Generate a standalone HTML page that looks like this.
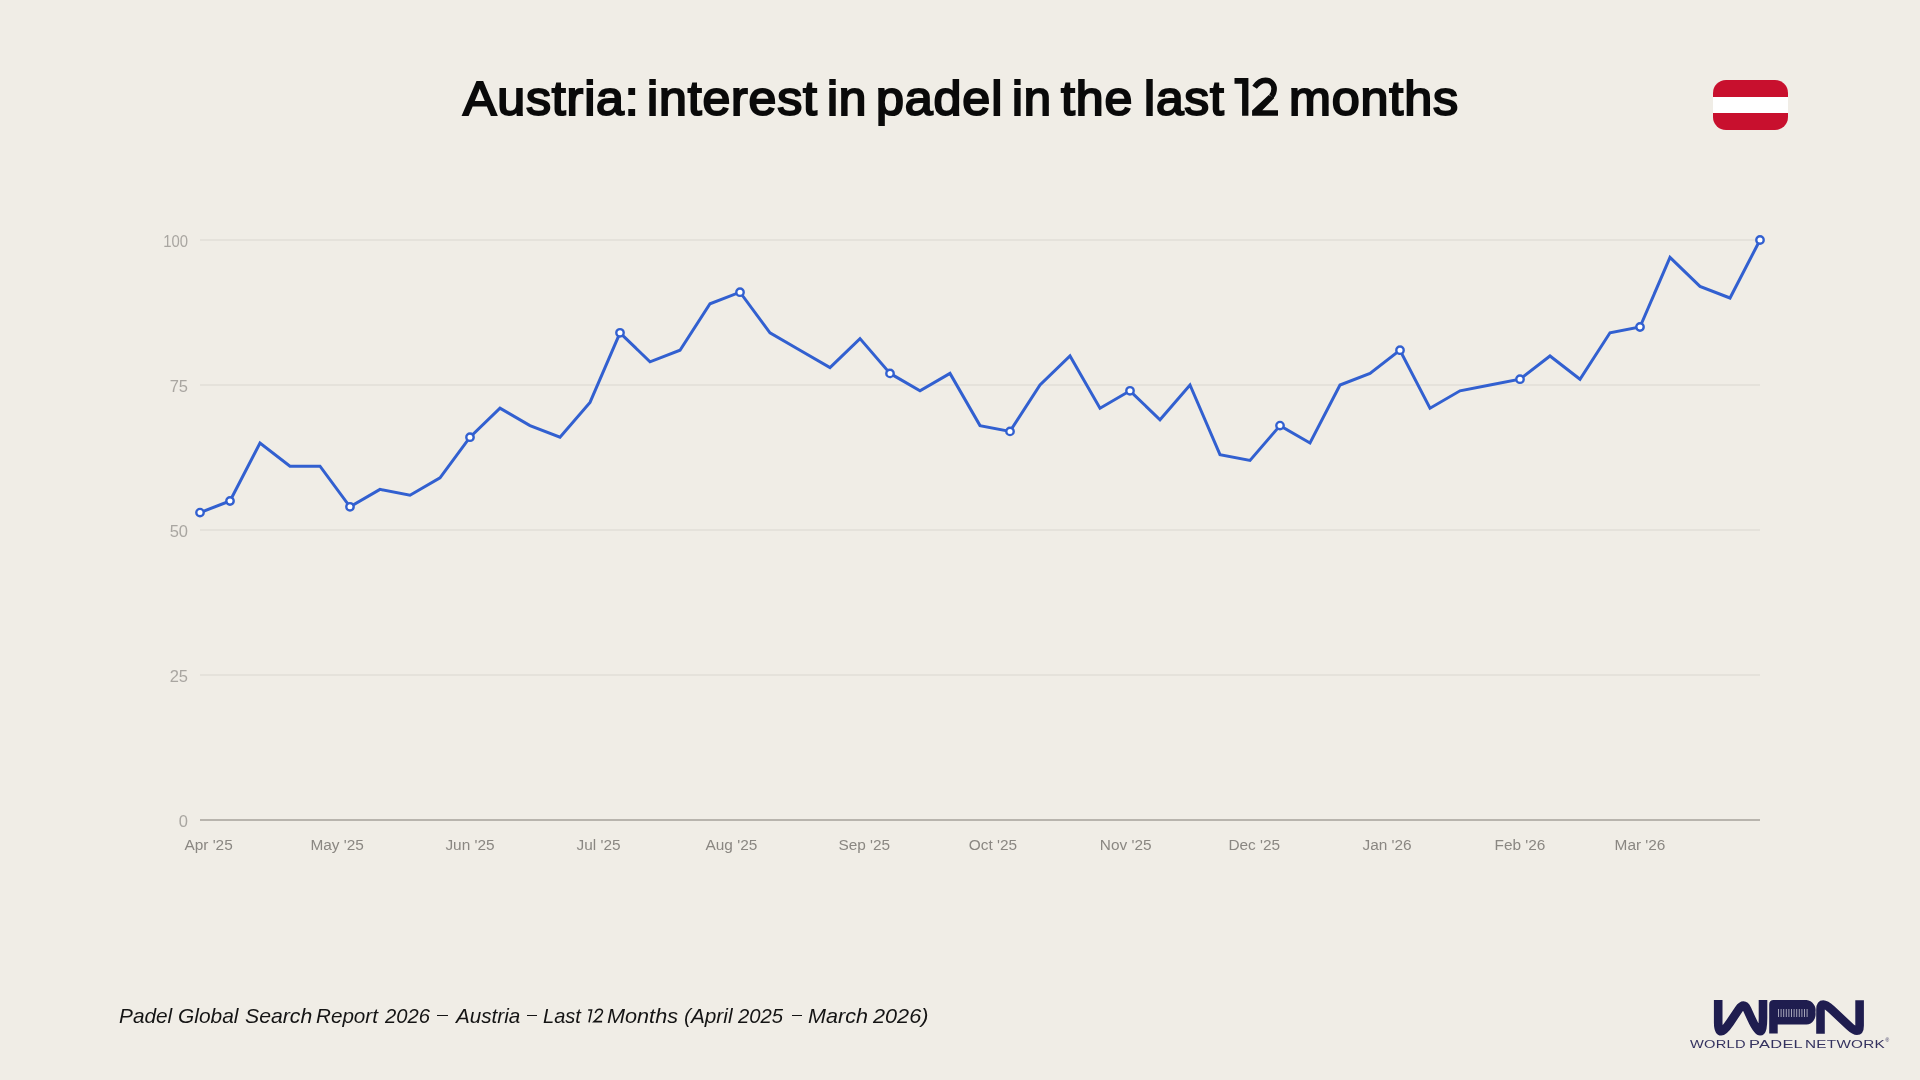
<!DOCTYPE html>
<html><head><meta charset="utf-8">
<style>
html,body{margin:0;padding:0;}
.title,.foot,.wpn,svg{will-change:transform;}
body{width:1920px;height:1080px;background:#f0ede6;position:relative;overflow:hidden;font-family:"Liberation Sans",sans-serif;}
.title span{position:absolute;top:49px;line-height:100px;font-weight:normal;font-size:48px;letter-spacing:0.8px;-webkit-text-stroke:2px #0a0a0a;color:#0a0a0a;white-space:nowrap;transform-origin:0 0;}
.flag{position:absolute;left:1713px;top:80px;width:75px;height:50px;border-radius:13px;overflow:hidden;background:#c8102e;}
.flag div{position:absolute;left:0;top:16.7px;width:75px;height:16.6px;background:#fff;}
svg{position:absolute;left:0;top:0;}
.yl{font-size:16.5px;fill:#a9a6a1;}
.xl{font-size:15.4px;fill:#8a8782;}
.foot span{position:absolute;top:966px;line-height:100px;font-style:italic;font-size:21px;color:#141414;white-space:nowrap;transform-origin:0 0;}
.wpn span{position:absolute;top:994px;line-height:100px;font-size:11.2px;letter-spacing:0.2px;color:#34325f;white-space:nowrap;transform-origin:0 0;}
.wpn .reg{left:1885.5px;top:1037px;font-size:5px;line-height:6px;letter-spacing:0;}
.dash{position:absolute;top:1014.6px;height:1.6px;background:#141414;}
</style></head><body>
<div class="title">
<span style="left:463.2px;transform:scaleX(1.044)">Austria:</span>
<span style="left:646.8px;transform:scaleX(1.043)">interest</span>
<span style="left:827.4px;transform:scaleX(1.035)">in</span>
<span style="left:875.9px;transform:scaleX(1.047)">padel</span>
<span style="left:1012.3px;transform:scaleX(1.021)">in</span>
<span style="left:1061.0px;transform:scaleX(1.044)">the</span>
<span style="left:1143.7px;transform:scaleX(1.036)">last</span>
<span style="left:1288.6px;transform:scaleX(1.048)">months</span>
</div>
<div class="flag"><div></div></div>
<svg width="1920" height="1080" viewBox="0 0 1920 1080">
<g fill="#0a0a0a">
<path d="M1234.5 78 H1248.4 V115.75 H1242.1 V83.8 H1234.5 Z"/>
<path d="M1252.1 115.75 H1278 V110.2 H1262.3 L1274.3 97.9 L1268.7 95.1 L1252.1 110.5 Z"/>
</g>
<path d="M1254.6 87.3 C1257.5 83 1261 80.4 1265.5 80.4 C1270.8 80.4 1274.1 84.3 1274.1 88.8 C1274.1 92.5 1272.8 94.8 1271.3 96.5" fill="none" stroke="#0a0a0a" stroke-width="5.6"/>
<g fill="none" stroke="#141414" stroke-width="1.55" stroke-linejoin="miter"><path d="M588.2 1010 H591.6 L589 1022.4"/><path d="M595.3 1013 C596.1 1010.5 597.6 1009.2 599.5 1009.2 C601.5 1009.2 602.6 1010.5 602.4 1012.2 C602.2 1013.9 601 1015.1 599.6 1016.3 L594 1021.6 H602.1"/></g>
<g stroke="#e2ded7" stroke-width="1.5">
<line x1="200" y1="240" x2="1760" y2="240"/>
<line x1="200" y1="385" x2="1760" y2="385"/>
<line x1="200" y1="530" x2="1760" y2="530"/>
<line x1="200" y1="675" x2="1760" y2="675"/>
</g>
<line x1="200" y1="820" x2="1760" y2="820" stroke="#b8b4ad" stroke-width="2"/>
<g class="yl" text-anchor="end">
<text x="188" y="247" textLength="24.8" lengthAdjust="spacingAndGlyphs">100</text>
<text x="188" y="392">75</text>
<text x="188" y="537">50</text>
<text x="188" y="682">25</text>
<text x="188" y="827">0</text>
</g>
<g class="xl" text-anchor="middle">
<text x="208.6" y="850">Apr '25</text>
<text x="337.1" y="850">May '25</text>
<text x="470" y="850">Jun '25</text>
<text x="598.6" y="850">Jul '25</text>
<text x="731.4" y="850">Aug '25</text>
<text x="864.3" y="850">Sep '25</text>
<text x="992.9" y="850">Oct '25</text>
<text x="1125.7" y="850">Nov '25</text>
<text x="1254.3" y="850">Dec '25</text>
<text x="1387.1" y="850">Jan '26</text>
<text x="1520" y="850">Feb '26</text>
<text x="1640" y="850">Mar '26</text>
</g>
<polyline fill="none" stroke="#3260d0" stroke-width="3" stroke-linejoin="miter" points="200,512.6 230,501.0 260,443.0 290,466.2 320,466.2 350,506.8 380,489.4 410,495.2 440,477.8 470,437.2 500,408.2 530,425.6 560,437.2 590,402.4 620,332.8 650,361.8 680,350.2 710,303.8 740,292.2 770,332.8 800,350.2 830,367.6 860,338.6 890,373.4 920,390.8 950,373.4 980,425.6 1010,431.4 1040,385.0 1070,356.0 1100,408.2 1130,390.8 1160,419.8 1190,385.0 1220,454.6 1250,460.4 1280,425.6 1310,443.0 1340,385.0 1370,373.4 1400,350.2 1430,408.2 1460,390.8 1490,385.0 1520,379.2 1550,356.0 1580,379.2 1610,332.8 1640,327.0 1670,257.4 1700,286.4 1730,298.0 1760,240.0"/>
<g fill="#ffffff" stroke="#3260d0" stroke-width="2.4">
<circle cx="200" cy="512.6" r="3.7"/><circle cx="230" cy="501.0" r="3.7"/><circle cx="350" cy="506.8" r="3.7"/><circle cx="470" cy="437.2" r="3.7"/><circle cx="620" cy="332.8" r="3.7"/><circle cx="740" cy="292.2" r="3.7"/><circle cx="890" cy="373.4" r="3.7"/><circle cx="1010" cy="431.4" r="3.7"/><circle cx="1130" cy="390.8" r="3.7"/><circle cx="1280" cy="425.6" r="3.7"/><circle cx="1400" cy="350.2" r="3.7"/><circle cx="1520" cy="379.2" r="3.7"/><circle cx="1640" cy="327.0" r="3.7"/><circle cx="1760" cy="240.0" r="3.7"/>
</g>
</svg>
<div class="foot">
<i class="dash" style="left:437px;width:11px"></i><i class="dash" style="left:526.8px;width:9.8px"></i><i class="dash" style="left:791.6px;width:10.2px"></i>
<span style="left:119.2px;transform:scaleX(0.991)">Padel</span>
<span style="left:178.3px;transform:scaleX(0.995)">Global</span>
<span style="left:244.6px;transform:scaleX(1.011)">Search</span>
<span style="left:316.1px;transform:scaleX(0.983)">Report</span>
<span style="left:384.6px;transform:scaleX(0.962)">2026</span>
<span style="left:455.6px;transform:scaleX(0.983)">Austria</span>
<span style="left:542.5px;transform:scaleX(0.954)">Last</span>
<span style="left:607.4px;transform:scaleX(1.031)">Months</span>
<span style="left:683.5px;transform:scaleX(0.990)">(April</span>
<span style="left:738.4px;transform:scaleX(0.965)">2025</span>
<span style="left:807.7px;transform:scaleX(1.027)">March</span>
<span style="left:872.8px;transform:scaleX(1.032)">2026)</span>
</div>
<svg width="1920" height="1080" viewBox="0 0 1920 1080" style="position:absolute;left:0;top:0">
<g fill="none" stroke="#1f1d4f" stroke-width="8.6" stroke-linejoin="round">
<path d="M1718.2 1000 V1022.5 Q1718.2 1040.1 1730 1022.5 L1738.95 1009.2 Q1743.85 1001.9 1747.1 1009.2 L1751.2 1018.2 Q1763 1044.4 1763 1018.2 V1000"/>
<path d="M1820.5 1033.8 V1009.7 Q1820.5 999.3 1831.7 1009.7 L1849 1025.8 Q1859.6 1035.7 1859.6 1025.8 V1000.2"/>
</g>
<g fill="#1f1d4f">
<path d="M1769.2 1033.6 V1004.5 Q1769.2 1000 1773.7 1000 H1806.5 A10.5 10.5 0 0 1 1815.5 1012.3 A10.5 10.5 0 0 1 1806.5 1024.6 H1777.7 V1033.6 Z"/>
</g>
<g stroke="#ffffff" stroke-width="0.8" opacity="0.75">
<path d="M1778.5 1009V1017 M1781.1 1009V1017 M1783.7 1009V1017 M1786.3 1009V1017 M1788.9 1009V1017 M1791.5 1009V1017 M1794.1 1009V1017 M1796.7 1009V1017 M1799.3 1009V1017 M1801.9 1009V1017 M1804.5 1009V1017 M1807.1 1009V1017"/>
</g>
</svg>
<div class="wpn"><span style="left:1689.9px;transform:scaleX(1.310)">WORLD</span><span style="left:1748.8px;transform:scaleX(1.466)">PADEL</span><span style="left:1804.8px;transform:scaleX(1.367)">NETWORK</span><span class="reg">&reg;</span></div>
</body></html>
